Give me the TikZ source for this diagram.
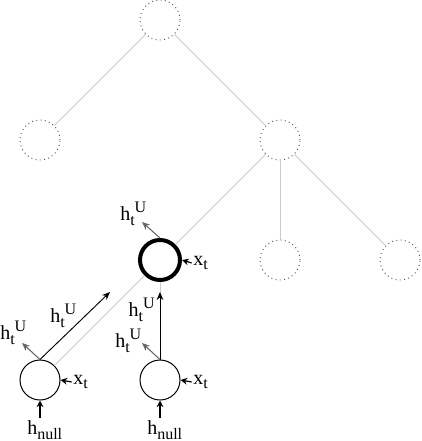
\documentclass[tikz,border=0pt]{standalone}
\usepackage{fontspec}
\setmainfont{Liberation Serif}
\usetikzlibrary{arrows.meta}
\newcommand{\lowr}[1]{\raisebox{-3.5pt}{\fontsize{12}{13}\selectfont #1}}
\newcommand{\uppr}[1]{\raisebox{6pt}{\fontsize{12}{13}\selectfont #1}}
\newcommand{\hU}{h\lowr{t}\uppr{U}}
\begin{document}
\begin{tikzpicture}[x=0.75pt,y=-0.75pt,
    hidden/.style={circle, draw=black!70, dash pattern=on 0.7pt off 2.5pt, line width=0.7pt, minimum size=30pt, inner sep=0pt},
    cell/.style={circle, draw, line width=0.75pt, fill=white, minimum size=30pt, inner sep=0pt},
    active/.style={cell, line width=3pt},
    edge/.style={draw=black!20, line width=0.7pt},
    flow/.style={-{Stealth[length=6pt,width=5pt]}, black, line width=0.7pt},
    side/.style={-{Stealth[length=6pt,width=5pt]}, black!60, line width=0.8pt},
    input/.style={-{Stealth[length=5pt,width=5pt]}, black, line width=0.9pt},
    lbl/.style={font=\fontsize{15}{17}\selectfont, inner sep=0pt},
]
\useasboundingbox (0,0) rectangle (421,441);
% tree skeleton
\node[hidden] (root) at (160,20) {};
\node[hidden] (left) at (40,140) {};
\node[hidden] (right) at (280,140) {};
\node[active] (cur) at (160,260) {};
\node[hidden] (mid) at (280,260) {};
\node[hidden] (far) at (400,260) {};
\node[cell] (leafa) at (40,380) {};
\node[cell] (leafb) at (160,380) {};
\draw[edge] (root) -- (left);
\draw[edge] (root) -- (right);
\draw[edge] (right) -- (cur);
\draw[edge] (right) -- (mid);
\draw[edge] (right) -- (far);
\draw[edge] (cur) -- (leafa);
\draw[edge] (cur) -- (leafb);
% free ends
\coordinate (a1) at (22,343);
\coordinate (a2) at (110,292);
\coordinate (b1) at (142,343);
\coordinate (b2) at (160,292);
\coordinate (c1) at (142,222);
% labels
\node[lbl, anchor=west] (ha) at (0,333) {\hU};
\node[lbl, anchor=west] (hb) at (50,316) {\hU};
\node[lbl, anchor=west] (hc) at (115,341) {\hU};
\node[lbl, anchor=east] (hd) at (155,310) {\hU};
\node[lbl, anchor=west] (he) at (120,214) {\hU};
\node[lbl, anchor=west] (xa) at (73,382) {x\lowr{t}};
\node[lbl, anchor=west] (xb) at (193,382) {x\lowr{t}};
\node[lbl, anchor=west] (xc) at (193,263) {x\lowr{t}};
\node[lbl, anchor=west] (na) at (27,430) {h\lowr{null}};
\node[lbl, anchor=west] (nb) at (147,430) {h\lowr{null}};
% arrows
\draw[side] (leafa.north) -- (a1);
\draw[flow] (leafa.north) -- (a2);
\draw[side] (leafb.north) -- (b1);
\draw[flow] (leafb.north) -- (b2);
\draw[side] (cur.north) -- (c1);
\draw[input] ([xshift=-1pt]xa.west) -- (leafa.east);
\draw[input] ([xshift=-1pt]xb.west) -- (leafb.east);
\draw[input] ([xshift=-1pt]xc.west) -- (cur.east);
\draw[input] ([yshift=2pt]na.north -| leafa.south) -- (leafa.south);
\draw[input] ([yshift=2pt]nb.north -| leafb.south) -- (leafb.south);
\end{tikzpicture}
\end{document}
